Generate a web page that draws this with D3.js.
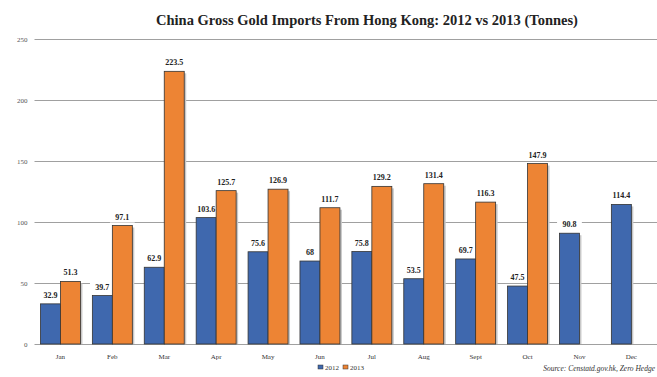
<!DOCTYPE html>
<html>
<head>
<meta charset="utf-8">
<script src="https://cdn.jsdelivr.net/npm/d3@7"></script>
<style>
  body { margin: 0; background: #fff; overflow: hidden; }
  svg { display: block; }
</style>
</head>
<body>
<div id="chart"></div>
<script>
// data
const months = ['Jan', 'Feb', 'Mar', 'Apr', 'May', 'Jun', 'Jul', 'Aug', 'Sept', 'Oct', 'Nov', 'Dec'];
const values2012 = [32.9, 39.7, 62.9, 103.6, 75.6, 68, 75.8, 53.5, 69.7, 47.5, 90.8, 114.4];
const values2013 = [51.3, 97.1, 223.5, 125.7, 126.9, 111.7, 129.2, 131.4, 116.3, 147.9, null, null];
const yTicks = [0, 50, 100, 150, 200, 250];
const seriesNames = ['2012', '2013'];
const colors = ['#3f68ae', '#ed8434'];

const width = 657, height = 377;
const margin = { top: 39, right: 0, bottom: 33, left: 34.5 };

const svg = d3.select('#chart').append('svg')
  .attr('width', width)
  .attr('height', height);

const x = d3.scaleBand()
  .domain(months)
  .range([margin.left, margin.left + 12 * 51.9])
  .paddingInner(0.23)
  .paddingOuter(0.115);

const xInner = d3.scaleBand()
  .domain(seriesNames)
  .range([0, x.bandwidth()])
  .padding(0);

const y = d3.scaleLinear()
  .domain([0, 250])
  .range([height - margin.bottom, margin.top]);

// title
svg.append('text')
  .attr('x', 367)
  .attr('y', 25)
  .attr('text-anchor', 'middle')
  .style('font-family', '"Liberation Serif", "DejaVu Serif", serif')
  .style('font-weight', 'bold')
  .style('font-size', '14.5px')
  .attr('fill', '#222')
  .text('China Gross Gold Imports From Hong Kong: 2012 vs 2013 (Tonnes)');

// gridlines + y labels
const yAxis = d3.axisLeft(y)
  .tickValues(yTicks)
  .tickSize(-(width - margin.left))
  .tickPadding(7);

const gy = svg.append('g')
  .attr('transform', `translate(${margin.left},0)`)
  .call(yAxis);
gy.select('.domain').remove();
gy.selectAll('.tick line').attr('stroke', '#a0a0a0').attr('stroke-width', 1);
gy.selectAll('.tick text')
  .attr('fill', '#555')
  .style('font-family', '"Liberation Serif", serif')
  .style('font-size', '7px');

// x labels
const xAxis = d3.axisBottom(x).tickSize(0).tickPadding(10);
const gx = svg.append('g')
  .attr('transform', `translate(0,${height - margin.bottom})`)
  .call(xAxis);
gx.select('.domain').remove();
gx.selectAll('.tick text')
  .attr('fill', '#333')
  .style('font-family', '"Liberation Serif", serif')
  .style('font-size', '7px');

// bars
const rows = months.map((m, i) => ({ month: m, vals: [values2012[i], values2013[i]] }));

const groups = svg.append('g').selectAll('g')
  .data(rows)
  .join('g')
  .attr('transform', d => `translate(${x(d.month)},0)`);

groups.each(function (d) {
  const g = d3.select(this);
  d.vals.forEach((v, si) => {
    if (v == null) return;
    const bx = xInner(seriesNames[si]);
    const bw = xInner.bandwidth();
    // soft shadow
    g.append('rect')
      .attr('x', bx + 2)
      .attr('y', y(v) + 2)
      .attr('width', bw)
      .attr('height', y(0) - y(v) - 2)
      .attr('fill', '#c8c8c8');
    g.append('rect')
      .attr('x', bx)
      .attr('y', y(v))
      .attr('width', bw)
      .attr('height', y(0) - y(v))
      .attr('fill', colors[si])
      .attr('stroke', '#333')
      .attr('stroke-width', 0.8);

    const label = String(v);
    const lx = bx + bw / 2;
    const ly = y(v) - 6;
    g.append('rect')
      .attr('x', lx - label.length * 2.6 - 2)
      .attr('y', ly - 8)
      .attr('width', label.length * 5.2 + 4)
      .attr('height', 11)
      .attr('fill', '#fff');
    g.append('text')
      .attr('x', lx)
      .attr('y', ly)
      .attr('text-anchor', 'middle')
      .style('font-family', '"Liberation Serif", serif')
      .style('font-weight', 'bold')
      .style('font-size', '8px')
      .attr('fill', '#222')
      .text(label);
  });
});

// legend
const legend = svg.append('g').attr('transform', 'translate(318,370)');
seriesNames.forEach((name, i) => {
  const lg = legend.append('g').attr('transform', `translate(${i * 25},0)`);
  lg.append('rect')
    .attr('x', 0).attr('y', -5)
    .attr('width', 5).attr('height', 4)
    .attr('fill', colors[i])
    .attr('stroke', '#333')
    .attr('stroke-width', 0.5);
  lg.append('text')
    .attr('x', 7).attr('y', 0)
    .style('font-family', '"Liberation Serif", serif')
    .style('font-size', '7px')
    .attr('fill', '#333')
    .text(name);
});

// source note
svg.append('text')
  .attr('x', 655)
  .attr('y', 371)
  .attr('text-anchor', 'end')
  .style('font-family', '"Liberation Serif", serif')
  .style('font-style', 'italic')
  .style('font-size', '7.5px')
  .attr('fill', '#333')
  .text('Source: Censtatd.gov.hk, Zero Hedge');
</script>
</body>
</html>
